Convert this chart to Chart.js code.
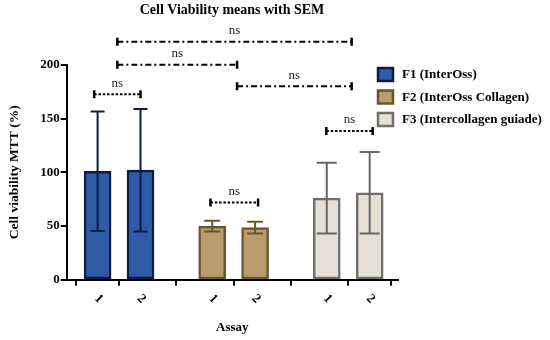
<!DOCTYPE html>
<html>
<head>
<meta charset="utf-8">
<script src="https://cdn.jsdelivr.net/npm/chart.js@4.4.1/dist/chart.umd.min.js"></script>
<style>
  html, body { margin: 0; padding: 0; background: #fff; }
</style>
</head>
<body>
<canvas id="chart" width="550" height="340"></canvas>
<script>
// categories on the x axis (three groups of two assays)
const assayLabels = ["1", "2", "1", "2", "1", "2"];
const assayPositions = [1, 2, 3.67, 4.67, 6.34, 7.34];

const seriesNames = ["F1 (InterOss)", "F2 (InterOss Collagen)", "F3 (Intercollagen guiade)"];

// means and SEM
const f1Means = [101, 102];
const f1Sem = [55.5, 57];
const f2Means = [50, 48.5];
const f2Sem = [5, 5.5];
const f3Means = [76, 81];
const f3Sem = [33, 38];

const yTicks = [0, 50, 100, 150, 200];

// significance comparisons (x on assay axis, level in %)
const compFrom = [0.92, 3.63, 6.33, 1.46, 1.46, 4.25];
const compTo = [2.0, 4.74, 7.41, 6.92, 4.25, 6.92];
const compLevel = [172.5, 72, 138.5, 221.5, 200, 180];
const compText = ["ns", "ns", "ns", "ns", "ns", "ns"];

const SERIF = "'Liberation Serif', 'DejaVu Serif', serif";

function points(xs, ys) {
    return ys.map(function (v, i) { return { x: xs[i], y: v }; });
}

const errorBars = {
    id: "errorBars",
    afterDatasetsDraw(chart) {
        const ctx = chart.ctx;
        const yScale = chart.scales.y;
        chart.data.datasets.forEach(function (ds, i) {
            const meta = chart.getDatasetMeta(i);
            const w = ds.capWidth;
            meta.data.forEach(function (bar, j) {
                const m = ds.data[j].y;
                const e = ds.sem[j];
                const top = yScale.getPixelForValue(m + e);
                const bot = yScale.getPixelForValue(m - e);
                ctx.save();
                ctx.strokeStyle = ds.errorColor;
                ctx.lineWidth = 2;
                ctx.beginPath();
                ctx.moveTo(bar.x, top);
                ctx.lineTo(bar.x, bot);
                ctx.moveTo(bar.x - w / 2, top);
                ctx.lineTo(bar.x + w / 2, top);
                ctx.moveTo(bar.x - w / 2, bot);
                ctx.lineTo(bar.x + w / 2, bot);
                ctx.stroke();
                ctx.restore();
            });
        });
    }
};

const brackets = {
    id: "brackets",
    afterDraw(chart) {
        const ctx = chart.ctx;
        const xs = chart.scales.x;
        const ys = chart.scales.y;
        for (let i = 0; i < compFrom.length; i++) {
            const x1 = xs.getPixelForValue(compFrom[i]);
            const x2 = xs.getPixelForValue(compTo[i]);
            const y = ys.getPixelForValue(compLevel[i]);
            const near = compTo[i] - compFrom[i] < 1.3;
            ctx.save();
            ctx.strokeStyle = "#000";
            ctx.lineWidth = 2;
            ctx.setLineDash(near ? [2.5, 1.8] : [6, 3, 2, 3]);
            ctx.beginPath();
            ctx.moveTo(x1, y);
            ctx.lineTo(x2, y);
            ctx.stroke();
            ctx.setLineDash([]);
            ctx.lineWidth = 2.5;
            ctx.beginPath();
            ctx.moveTo(x1, y - 4);
            ctx.lineTo(x1, y + 4);
            ctx.moveTo(x2, y - 4);
            ctx.lineTo(x2, y + 4);
            ctx.stroke();
            ctx.fillStyle = "#222";
            ctx.font = "13px " + SERIF;
            ctx.textAlign = "center";
            ctx.textBaseline = "middle";
            ctx.fillText(compText[i], (x1 + x2) / 2, y - 11);
            ctx.restore();
        }
    }
};

const rotatedTicks = {
    id: "rotatedTicks",
    afterDraw(chart) {
        const ctx = chart.ctx;
        const xs = chart.scales.x;
        xs.ticks.forEach(function (t, i) {
            const x = xs.getPixelForValue(t.value);
            ctx.save();
            ctx.translate(x + 1, chart.chartArea.bottom + 19);
            ctx.rotate(Math.PI / 4);
            ctx.fillStyle = "#000";
            ctx.font = "bold 13px " + SERIF;
            ctx.textAlign = "center";
            ctx.textBaseline = "middle";
            ctx.fillText(assayLabels[i], 0, 0);
            ctx.restore();
        });
    }
};

const sideLegend = {
    id: "sideLegend",
    afterDraw(chart) {
        const ctx = chart.ctx;
        chart.data.datasets.forEach(function (ds, i) {
            const top = 68 + i * 22.5;
            ctx.save();
            ctx.fillStyle = ds.backgroundColor;
            ctx.strokeStyle = ds.borderColor;
            ctx.lineWidth = 2.5;
            ctx.fillRect(378, top, 15, 13);
            ctx.strokeRect(378, top, 15, 13);
            ctx.fillStyle = "#000";
            ctx.font = "bold 13px " + SERIF;
            ctx.textAlign = "left";
            ctx.textBaseline = "middle";
            ctx.fillText(ds.label, 402, top + 7);
            ctx.restore();
        });
    }
};

new Chart(document.getElementById("chart"), {
    type: "bar",
    data: {
        datasets: [
            {
                label: seriesNames[0],
                data: points(assayPositions.slice(0, 2), f1Means),
                sem: f1Sem,
                backgroundColor: "#2f5aa8",
                borderColor: "#0e1c40",
                errorColor: "#0e1c40",
                capWidth: 14
            },
            {
                label: seriesNames[1],
                data: points(assayPositions.slice(2, 4), f2Means),
                sem: f2Sem,
                backgroundColor: "#b99d6e",
                borderColor: "#6b5530",
                errorColor: "#6b5530",
                capWidth: 16
            },
            {
                label: seriesNames[2],
                data: points(assayPositions.slice(4, 6), f3Means),
                sem: f3Sem,
                backgroundColor: "#e4e0d6",
                borderColor: "#6e6e6e",
                errorColor: "#666666",
                capWidth: 20
            }
        ]
    },
    options: {
        responsive: false,
        animation: false,
        grouped: false,
        barThickness: 27,
        borderWidth: 2.5,
        borderSkipped: false,
        // right padding + spacer axis keep the plot narrow while the title centres at ~232px
        layout: { padding: { left: 0, right: 86, top: 0, bottom: 0 } },
        plugins: {
            legend: { display: false },
            tooltip: { enabled: false },
            title: {
                display: true,
                text: "Cell Viability means with SEM",
                color: "#000",
                font: { family: SERIF, size: 14, weight: "bold" },
                padding: { top: 2, bottom: 46 }
            }
        },
        scales: {
            x: {
                type: "linear",
                min: 0.28,
                max: 8.0,
                offset: false,
                afterBuildTicks: function (scale) {
                    scale.ticks = assayPositions.map(function (v) { return { value: v }; });
                },
                ticks: {
                    maxRotation: 0,
                    minRotation: 0,
                    autoSkip: false,
                    padding: 4,
                    color: "rgba(0,0,0,0)",
                    font: { family: SERIF, size: 13, weight: "bold" },
                    callback: function (v, i) { return assayLabels[i]; }
                },
                grid: { display: true, drawOnChartArea: false, drawTicks: true, tickLength: 6, color: "#000", lineWidth: 2 },
                border: { display: true, color: "#000", width: 2 },
                title: {
                    display: true,
                    text: "Assay",
                    color: "#000",
                    font: { family: SERIF, size: 13, weight: "bold" },
                    padding: { top: 10, bottom: 5 }
                }
            },
            y: {
                min: 0,
                max: 200,
                afterBuildTicks: function (scale) {
                    scale.ticks = yTicks.map(function (v) { return { value: v }; });
                },
                ticks: {
                    padding: 1,
                    color: "#000",
                    font: { family: SERIF, size: 13, weight: "bold" }
                },
                grid: { display: true, drawOnChartArea: false, drawTicks: true, tickLength: 6, color: "#000", lineWidth: 2 },
                border: { display: true, color: "#000", width: 2 },
                title: {
                    display: true,
                    text: "Cell viability MTT (%)",
                    color: "#000",
                    font: { family: SERIF, size: 13.5, weight: "bold" },
                    padding: { top: 6, bottom: 17 }
                }
            },
            spacer: {
                type: "linear",
                position: "right",
                display: true,
                grid: { display: false, drawTicks: false },
                border: { display: false },
                ticks: { display: false },
                afterFit: function (scale) { scale.width = 66; }
            }
        }
    },
    plugins: [errorBars, brackets, rotatedTicks, sideLegend]
});
</script>
</body>
</html>
